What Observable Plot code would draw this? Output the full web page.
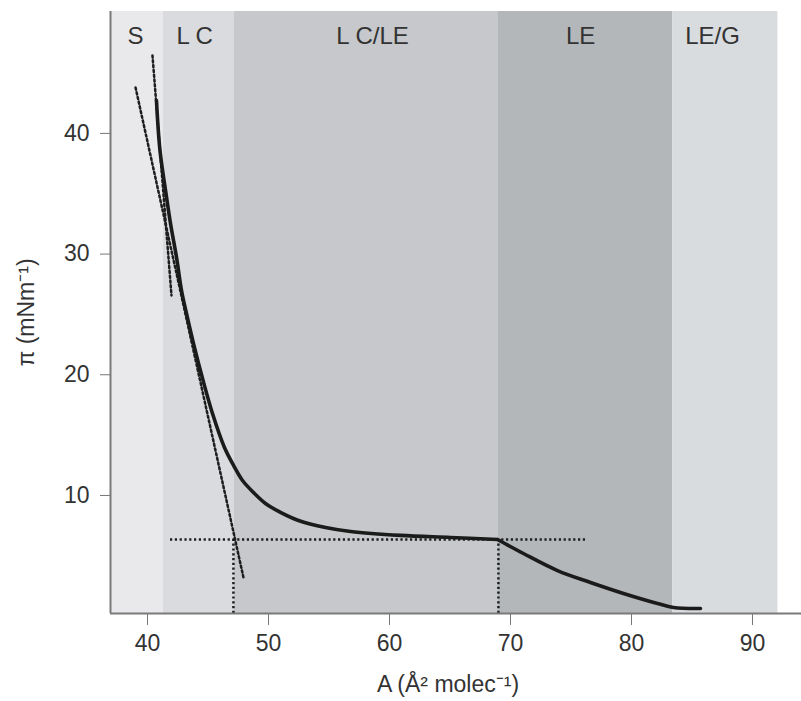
<!DOCTYPE html>
<html>
<head>
<meta charset="utf-8">
<script src="https://cdn.jsdelivr.net/npm/d3@7"></script>
<script src="https://cdn.jsdelivr.net/npm/@observablehq/plot@0.6"></script>
<style>
  html, body { margin: 0; padding: 0; background: #fff; }
</style>
</head>
<body>
<div id="chart"></div>
<script>
// Phase regions along the molecular-area axis (Å² per molecule)
const phaseNames = ["S", "L C", "L C/LE", "LE", "LE/G"];
const phaseFrom  = [36.94, 41.3, 47.15, 69.0, 83.4];
const phaseTo    = [41.3, 47.15, 69.0, 83.4, 92.1];
// area at which each phase name is centred
const phaseLabelArea = [39.0, 43.9, 58.6, 75.8, 86.7];

// Isotherm, condensed branch (up to the kink at the LE onset)
const areaCondensed = [40.74, 41.03, 41.49, 41.90, 42.40, 42.81, 43.22, 43.88, 44.59, 45.37, 46.36,
                       47.11, 47.85, 48.76, 49.75, 50.99, 52.48, 54.71, 56.78, 60.91, 65.04, 68.93];
const piCondensed   = [42.72, 38.58, 35.27, 32.53, 29.71, 26.98, 25.08, 22.26, 19.53, 16.79, 13.97,
                       12.49, 11.24, 10.25, 9.34, 8.60, 7.93, 7.35, 7.02, 6.69, 6.52, 6.35];

// Isotherm, expanded branch
const areaExpanded = [68.93, 71.07, 73.88, 76.61, 79.34, 82.15, 83.47, 85.70];
const piExpanded   = [6.35, 5.19, 3.78, 2.79, 1.88, 1.05, 0.72, 0.64];

// Construction lines: tangents, plateau pressure and the two onset areas
const tangentSolidArea = [40.41, 41.98];
const tangentSolidPi   = [46.45, 26.57];
const tangentLCArea    = [39.01, 47.93];
const tangentLCPi      = [43.80, 3.20];
const plateauArea      = [41.9, 76.3];
const plateauPi        = 6.35;
const onsetArea        = [47.1, 69.0];

const xTicks = [40, 50, 60, 70, 80, 90];
const yTicks = [10, 20, 30, 40];

const xDomain = [36.94, 94.05];
const yDomain = [0.22, 50.1];

const phaseShades = ["#e9e9eb", "#d9dbde", "#c6c8cb", "#b4b7ba", "#d9dcdf"];

const phases = phaseNames.map((name, i) => ({name, from: phaseFrom[i], to: phaseTo[i], at: phaseLabelArea[i]}));
const condensed = areaCondensed.map((a, i) => ({a, pi: piCondensed[i]}));
const expanded = areaExpanded.map((a, i) => ({a, pi: piExpanded[i]}));
const seg = (xs, ys) => xs.map((a, i) => ({a, pi: ys[i]}));

const ink = "#333";
const dotted = {stroke: "#1e1e1e", strokeWidth: 2.5, strokeDasharray: "2.2,2.6"};

const chart = Plot.plot({
  width: 801,
  height: 701,
  marginTop: 11,
  marginBottom: 88,
  marginLeft: 110,
  marginRight: 0,
  style: {fontFamily: "'Liberation Sans', Arial, sans-serif", fontSize: "23px", color: ink, background: "#fff"},
  x: {domain: xDomain},
  y: {domain: yDomain},
  color: {domain: phaseNames, range: phaseShades},
  marks: [
    // shaded phase regions
    Plot.rect(phases, {x1: "from", x2: "to", y1: yDomain[0], y2: yDomain[1], fill: "name"}),
    Plot.text(phases, {x: "at", frameAnchor: "top", dy: 15, text: "name", fontSize: 24, fill: ink}),

    // construction lines
    Plot.line(seg(tangentSolidArea, tangentSolidPi), {x: "a", y: "pi", ...dotted}),
    Plot.line(seg(tangentLCArea, tangentLCPi), {x: "a", y: "pi", ...dotted}),
    Plot.ruleY([plateauPi], {x1: plateauArea[0], x2: plateauArea[1], ...dotted}),
    Plot.ruleX(onsetArea, {y1: yDomain[0], y2: plateauPi, ...dotted}),

    // the isotherm
    Plot.line(condensed, {x: "a", y: "pi", curve: "catmull-rom", stroke: "#1b1b1b", strokeWidth: 3.6}),
    Plot.line(expanded, {x: "a", y: "pi", curve: "catmull-rom", stroke: "#1b1b1b", strokeWidth: 3.6}),

    // axes
    Plot.axisX({ticks: xTicks, tickSize: 12, tickPadding: 9, stroke: "#777", fill: ink, fontSize: 23, label: null}),
    Plot.axisY({ticks: yTicks, tickSize: 10, tickPadding: 11, stroke: "#777", fill: ink, fontSize: 23, label: null}),
    Plot.ruleY([yDomain[0]], {stroke: "#7a7a7a", strokeWidth: 2}),
    Plot.ruleX([xDomain[0]], {stroke: "#7a7a7a", strokeWidth: 2}),

    // axis titles
    Plot.text(["A (Å² molec⁻¹)"], {frameAnchor: "bottom", dy: 78, dx: -8, fontSize: 23, fill: ink}),
    Plot.text(["π (mNm⁻¹)"], {frameAnchor: "left", textAnchor: "middle", dx: -84, rotate: -90,
                              fontSize: 23, fill: ink})
  ]
});

document.getElementById("chart").appendChild(chart);
</script>
</body>
</html>
